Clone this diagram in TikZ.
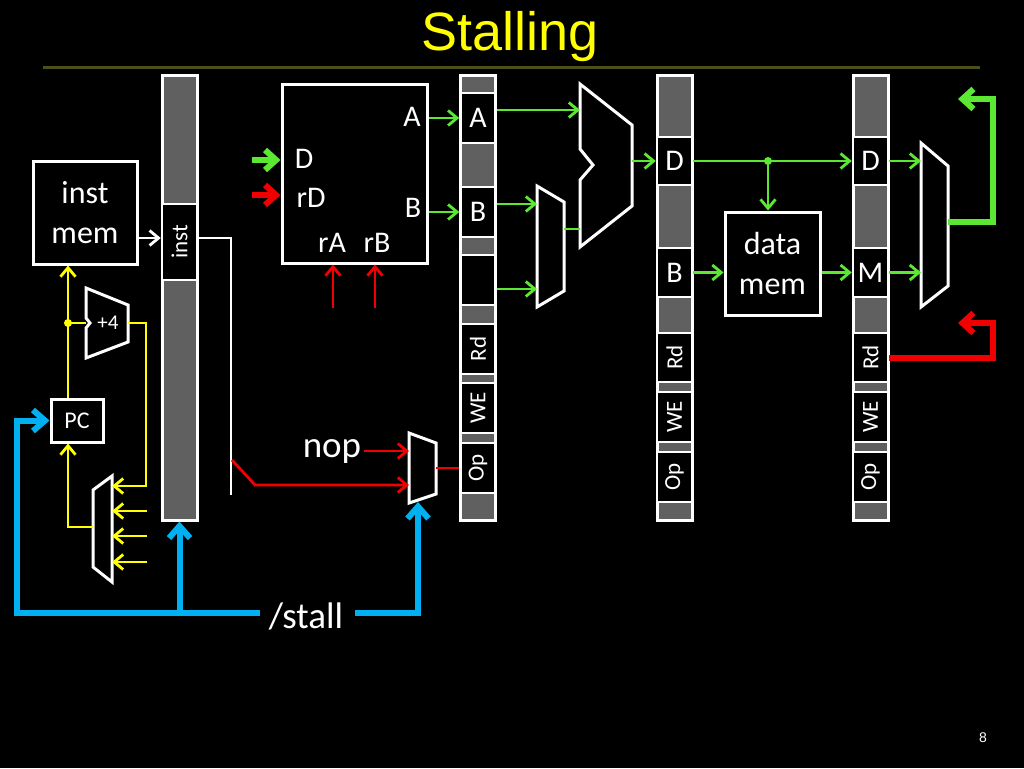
\documentclass[tikz,border=0pt]{standalone}
\usepackage{fontspec}
\setmainfont{Carlito}
\newfontfamily\arialf{Liberation Sans}
\usetikzlibrary{arrows.meta,calc}
\definecolor{pgreen}{RGB}{90,232,50}
\definecolor{pred}{RGB}{240,0,0}
\definecolor{pblue}{RGB}{0,176,240}
\definecolor{pyellow}{RGB}{255,255,0}
\definecolor{rgrey}{RGB}{96,96,96}
\definecolor{olivec}{RGB}{78,78,22}
\newcommand{\fs}[1]{\fontsize{#1}{#1}\selectfont}
\begin{document}
\begin{tikzpicture}[x=1pt,y=-1pt,
  preg/.style={fill=rgrey,draw=white,line width=3pt,inner sep=0pt,minimum width=35pt},
  seg/.style={fill=black,draw=white,line width=2.5pt,inner sep=0pt,minimum width=35pt,text=white,font=\fs{30}},
  rseg/.style={seg,font=\fs{23}},
  blk/.style={fill=black,draw=white,line width=3pt,text=white,align=center,inner sep=0pt},
  wshape/.style={fill=black,draw=white,line width=3pt,line join=miter},
  lbl/.style={text=white,inner sep=0pt},
  ga/.style={draw=pgreen,line width=2.8pt,-{Straight Barb[length=9pt,width=15pt]}},
  gl/.style={draw=pgreen,line width=2.8pt},
  gt/.style={draw=pgreen,line width=6pt,-{Straight Barb[length=11pt,width=20pt]}},
  ra/.style={draw=pred,line width=2.8pt,-{Straight Barb[length=9pt,width=15pt]}},
  rl/.style={draw=pred,line width=2.8pt},
  rt/.style={draw=pred,line width=6pt,-{Straight Barb[length=11pt,width=20pt]}},
  ya/.style={draw=pyellow,line width=2.8pt,-{Straight Barb[length=9pt,width=15pt]}},
  yl/.style={draw=pyellow,line width=2.8pt},
  ba/.style={draw=pblue,line width=6pt,-{Straight Barb[length=12pt,width=21pt]}},
  wl/.style={draw=white,line width=2.8pt},
  wa/.style={draw=white,line width=2.8pt,-{Straight Barb[length=9pt,width=15pt]}}
]
\useasboundingbox (0,0) rectangle (1024,768);
\fill[black] (0,0) rectangle (1024,768);

% title
\node[text=pyellow,font=\arialf\fs{54}] (title) at (510,37) {Stalling};
\coordinate (ruleL) at (43,67);
\coordinate (ruleR) at (980,67);
\draw[olivec,line width=3pt] (ruleL) -- (ruleR);
\node[text=white,font=\arialf\fs{14}] (pg) at (983,738) {8};

% pipeline registers
\node[preg,minimum height=445pt] (ifid) at (179.5,297.5) {};
\node[rseg,minimum height=76pt] (ifinst) at (179.5,242) {\rotatebox{90}{inst}};

\node[preg,minimum height=445pt] (idex) at (478,297.5) {};
\node[seg,minimum height=50pt] (exA) at (478,118) {A};
\node[seg,minimum height=50pt] (exB) at (478,212) {B};
\node[seg,minimum height=50pt] (exE) at (478,280) {};
\node[rseg,minimum height=50pt] (exRd) at (478,349) {\rotatebox{90}{Rd}};
\node[rseg,minimum height=50pt] (exWE) at (478,408) {\rotatebox{90}{WE}};
\node[rseg,minimum height=50pt] (exOp) at (478,468) {\rotatebox{90}{Op}};

\node[preg,minimum height=445pt] (exmem) at (674.5,297.5) {};
\node[seg,minimum height=48pt] (mD) at (674.5,161) {D};
\node[seg,minimum height=49pt] (mB) at (674.5,272.5) {B};
\node[rseg,minimum height=49pt] (mRd) at (674.5,357.5) {\rotatebox{90}{Rd}};
\node[rseg,minimum height=50pt] (mWE) at (674.5,417) {\rotatebox{90}{WE}};
\node[rseg,minimum height=50pt] (mOp) at (674.5,477) {\rotatebox{90}{Op}};

\node[preg,minimum height=445pt] (memwb) at (870.5,297.5) {};
\node[seg,minimum height=48pt] (wD) at (870.5,161) {D};
\node[seg,minimum height=49pt] (wM) at (870.5,272.5) {M};
\node[rseg,minimum height=49pt] (wRd) at (870.5,357.5) {\rotatebox{90}{Rd}};
\node[rseg,minimum height=50pt] (wWE) at (870.5,417) {\rotatebox{90}{WE}};
\node[rseg,minimum height=50pt] (wOp) at (870.5,477) {\rotatebox{90}{Op}};

% blocks
\node[blk,minimum width=104pt,minimum height=103pt,font=\fontsize{32}{40}\selectfont] (imem) at (85,212.5) {inst\\mem};
\node[blk,minimum width=52pt,minimum height=43pt,font=\fs{24}] (pc) at (77,420.5) {PC};
\node[blk,minimum width=145pt,minimum height=179pt] (rf) at (354.5,173.5) {};
\node[blk,minimum width=95pt,minimum height=103pt,font=\fontsize{32}{40}\selectfont] (dmem) at (772.5,263.5) {data\\mem};

% register file labels
\node[lbl,font=\fs{30}] (rfA) at (412,117) {A};
\node[lbl,font=\fs{30}] (rfB) at (413,208) {B};
\node[lbl,font=\fs{30}] (rfD) at (304,159) {D};
\node[lbl,font=\fs{30}] (rfrD) at (311,198) {rD};
\node[lbl,font=\fs{30}] (rfrA) at (332,243) {rA};
\node[lbl,font=\fs{30}] (rfrB) at (377,243) {rB};

% IF stage
\coordinate (ycol) at (68,0);
\coordinate (jdot) at (68,323);
\draw[wshape] (86,288) -- (128,305) -- (128,342) -- (86,358) -- (86,328) -- (90,323) -- (86,318) -- cycle;
\node[lbl,font=\fs{21}] (plus4) at (108,323) {+4};
\coordinate (addin) at (86,323);
\coordinate (addout) at (128,323);
\draw[wshape] (93,490) -- (112,476) -- (112,582) -- (93,567) -- cycle;
\coordinate (pcm1) at (112,486);
\coordinate (pcm2) at (112,511);
\coordinate (pcm3) at (112,536);
\coordinate (pcm4) at (112,562);
\coordinate (pcmout) at (93,527);
\coordinate (in2) at (147,511);
\coordinate (in3) at (147,536);
\coordinate (in4) at (147,562);
\coordinate (addR) at (146,0);

\draw[ya] (pc.north -| ycol) -- (imem.south -| ycol);
\draw[yl] (jdot) -- (addin);
\draw[ya] (addout) -- (addout -| addR) |- (pcm1);
\draw[ya] (in2) -- (pcm2);
\draw[ya] (in3) -- (pcm3);
\draw[ya] (in4) -- (pcm4);
\draw[ya] (pcmout) -- (pcmout -| ycol) -- (pc.south -| ycol);
\fill[pyellow] (jdot) circle (4pt);

\draw[wa] (imem.east |- 0,238) -- (ifinst.west |- 0,238);

% inst wire
\coordinate (iwt) at (231,238);
\coordinate (iwb) at (231,495);
\draw[wl] (ifinst.east |- iwt) -- (iwt) -- (iwb);

% nop mux
\draw[wshape] (409,433) -- (436,443) -- (436,494) -- (409,503) -- cycle;
\coordinate (nopin1) at (409,451);
\coordinate (nopin2) at (409,485);
\coordinate (nopout) at (436,468);
\coordinate (nopsel) at (418,502);
\coordinate (rw1) at (232,460);
\coordinate (rw2) at (255,485);
\node[lbl,font=\fs{37}] (nop) at (332,451) {nop};
\draw[ra] ([xshift=3pt]nop.east |- nopin1) -- (nopin1);
\draw[ra] (rw1) -- (rw2) -- (nopin2);
\draw[rl] (nopout) -- (exOp.west);

% stall
\node[lbl,font=\fs{37}] (stall) at (306,616) {/stall};
\coordinate (blc) at (17,613);
\draw[ba] ([xshift=-9pt]stall.west |- blc) -- (blc) |- (pc.west);
\draw[ba] (blc -| ifid.south) -- (ifid.south);
\draw[ba] ([xshift=12pt]stall.east |- blc) -| (nopsel);

% register file inputs
\coordinate (dsrc) at (252,160);
\coordinate (rdsrc) at (252,195);
\draw[gt] (dsrc) -- (dsrc -| rf.west);
\draw[rt] (rdsrc) -- (rdsrc -| rf.west);
\coordinate (ra0) at (333,308);
\coordinate (rb0) at (375,308);
\draw[ra] (ra0) -- (ra0 |- rf.south);
\draw[ra] (rb0) -- (rb0 |- rf.south);
\draw[ga] (exA.west -| rf.east) -- (exA.west);
\draw[ga] (exB.west -| rf.east) -- (exB.west);

% EX stage
\draw[wshape] (537,186) -- (564,202) -- (564,291) -- (537,307) -- cycle;
\draw[wshape] (580,84) -- (632,125) -- (632,206) -- (580,247) -- (580,180) -- (593,165) -- (580,149) -- cycle;
\coordinate (aluA) at (580,110);
\coordinate (bm1) at (537,204);
\coordinate (bm2) at (537,289);
\coordinate (bmout) at (564,229);
\coordinate (aluB) at (580,229);
\coordinate (aluout) at (632,161);
\draw[ga] (exA.east |- aluA) -- (aluA);
\draw[ga] (exB.east |- bm1) -- (bm1);
\draw[ga] (exE.east |- bm2) -- (bm2);
\draw[gl] (bmout) -- (aluB);
\draw[ga] (aluout) -- (mD.west);

% MEM stage
\coordinate (mdot) at (768,161);
\draw[ga] (mD.east) -- (wD.west);
\draw[ga] (mdot) -- (mdot |- dmem.north);
\fill[pgreen] (mdot) circle (4pt);
\draw[ga] (mB.east) -- (mB.east -| dmem.west);
\draw[ga] (dmem.east |- wM.west) -- (wM.west);

% WB stage
\draw[wshape] (921,143) -- (948,166) -- (948,286) -- (921,307) -- cycle;
\coordinate (wm1) at (921,161);
\coordinate (wm2) at (921,272.5);
\coordinate (wmout) at (948,222);
\coordinate (wbR) at (993,0);
\coordinate (dback) at (958,99);
\coordinate (rdback) at (958,323);
\draw[ga] (wD.east) -- (wm1);
\draw[ga] (wM.east) -- (wm2);
\draw[gt] (wmout) -| (wbR |- dback) -- (dback);
\draw[rt] (wRd.east) -| (wbR |- rdback) -- (rdback);
\end{tikzpicture}
\end{document}
